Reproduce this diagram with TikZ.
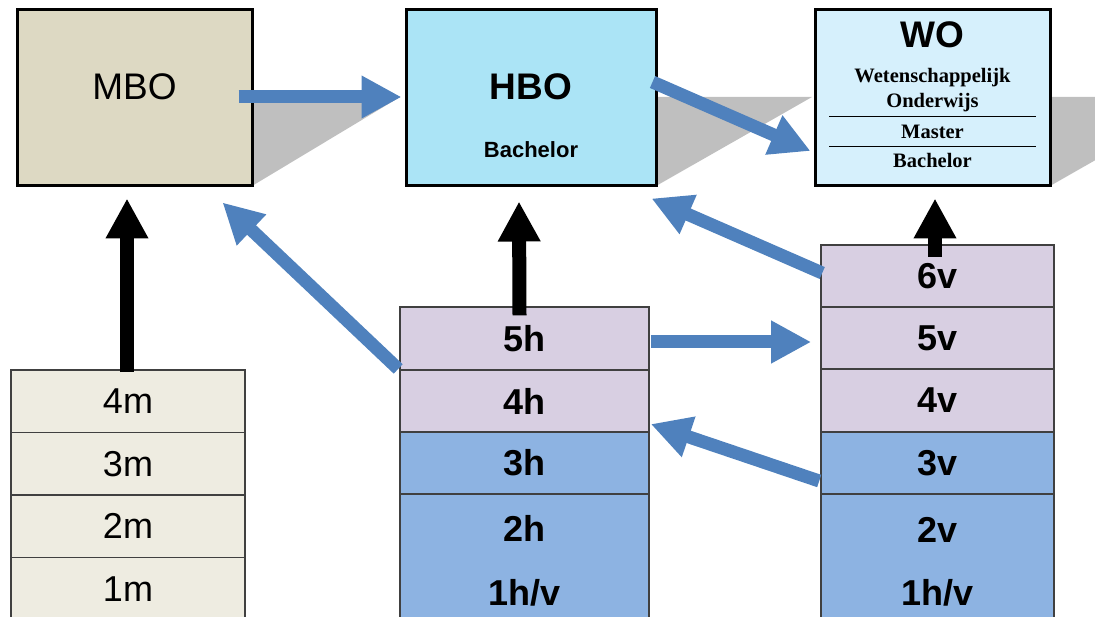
\documentclass[tikz,border=0pt]{standalone}
\usepackage{fontspec}
\setmainfont{Liberation Sans}
\newfontfamily\woserif{Liberation Serif}
\usetikzlibrary{positioning, arrows.meta, calc}

\definecolor{mbotan}{HTML}{DDD9C3}
\definecolor{hbosky}{HTML}{ABE4F6}
\definecolor{wosky}{HTML}{D6F0FC}
\definecolor{mrowfill}{HTML}{EEECE1}
\definecolor{upperfill}{HTML}{D8CFE2}
\definecolor{lowerfill}{HTML}{8DB3E2}
\definecolor{flowblue}{HTML}{4F81BD}
\definecolor{shadowgray}{HTML}{BFBFBF}

\begin{document}
\begin{tikzpicture}[x=1pt, y=-1pt,
    % Styles
    level/.style={draw=black, line width=3pt, minimum height=176pt, inner sep=0pt},
    year/.style={draw=black!75, line width=1.6pt, minimum width=#1, minimum height=62.5pt, inner sep=0pt,
        font=\fontsize{36}{40}\selectfont\bfseries},
    year/.default=249pt,
    mrow/.style={year=234pt, fill=mrowfill, font=\fontsize{36}{40}\selectfont},
    yearlabel/.style={anchor=base, font=\fontsize{36}{40}\selectfont\bfseries},
    wotext/.style={anchor=base, font=\woserif\fontsize{20.5}{22}\selectfont\bfseries},
    up-arrow/.style={-{Triangle[length=40pt, width=40pt]}, line width=14pt, black},
    flow-arrow/.style={-{Triangle[length=40pt, width=40pt]}, line width=13pt, flowblue},
]
\useasboundingbox (0,0) rectangle (1095,617);
\clip (0,0) rectangle (1095,617);

% Shadows behind the top boxes
\fill[shadowgray] (252,97) -- (400,97) -- (252,186) -- cycle;
\fill[shadowgray] (656,97) -- (812,97) -- (656,186) -- cycle;
\fill[shadowgray] (1050,97) -- (1206,97) -- (1050,186) -- cycle;

% Top row: MBO, HBO, WO
\node[level, fill=mbotan, minimum width=235pt] (mbo) at (134.5,98) {};
\node[anchor=base, font=\fontsize{37}{40}\selectfont] (mbotitle) at (134.5,100) {MBO};

\node[level, fill=hbosky, minimum width=250pt] (hbo) at (531,98) {};
\node[anchor=base, font=\fontsize{37}{40}\selectfont\bfseries] (hbotitle) at (531,100) {HBO};
\node[anchor=base, font=\fontsize{22}{26}\selectfont\bfseries] (hbobach) at (531,158) {Bachelor};

\node[level, fill=wosky, minimum width=235pt] (wo) at (932.5,98) {};
\node[anchor=base, font=\fontsize{37}{40}\selectfont\bfseries] (wotitle) at (932.5,48) {WO};
\node[wotext] (wosub) at (932.5,83) {Wetenschappelijk};
\node[wotext] (wosubb) at (932.5,108) {Onderwijs};
\draw[line width=1pt] (829,117) -- (1036,117);
\node[wotext] (womaster) at (932.5,139) {Master};
\draw[line width=1pt] (829,147) -- (1036,147);
\node[wotext] (wobach) at (932.5,168) {Bachelor};

% MBO years
\node[mrow] (m4) at (128,401.25) {4m};
\node[mrow] (m3) at (128,463.75) {3m};
\node[mrow] (m2) at (128,526.25) {2m};
\node[mrow] (m1) at (128,588.75) {1m};

% HAVO years
\node[year, fill=upperfill] (h5) at (524.5,338.5) {5h};
\node[year, fill=upperfill] (h4) at (524.5,401) {4h};
\node[year, fill=lowerfill] (h3) at (524.5,463) {3h};
\node[year, fill=lowerfill, minimum height=166pt] (h21) at (524.5,577) {};
\node[yearlabel] (h2) at (524.5,541) {2h};
\node[yearlabel] (h1) at (524.5,605) {1h/v};

% VWO years
\node[year=233pt, fill=upperfill] (v6) at (937.5,276) {6v};
\node[year=233pt, fill=upperfill] (v5) at (937.5,338) {5v};
\node[year=233pt, fill=upperfill] (v4) at (937.5,400.5) {4v};
\node[year=233pt, fill=lowerfill] (v3) at (937.5,463) {3v};
\node[year=233pt, fill=lowerfill, minimum height=166pt] (v21) at (937.5,577) {};
\node[yearlabel] (v2) at (937.5,542) {2v};
\node[yearlabel] (v1) at (937.5,605) {1h/v};

% Diploma arrows
\draw[up-arrow] ([shift={(-1,3)}]m4.north) -- ($(m4.north |- mbo.south)+(-1,11)$);
\draw[up-arrow] ([shift={(-5,9)}]h5.north) -- ([shift={(-12,14)}]hbo.south);
\draw[up-arrow] ([shift={(-2.5,13)}]v6.north) -- ([shift={(2.5,11)}]wo.south);

% Transfer arrows
\draw[flow-arrow] ([shift={(-15,-1)}]mbo.east) -- ([shift={(-3,-1)}]hbo.west);
\draw[flow-arrow] ([shift={(-5,-16)}]hbo.east) -- ([shift={(-3,53)}]wo.west);
\draw[flow-arrow] ([shift={(2,-3)}]v6.west) -- ([shift={(-6,11)}]hbo.south east);
\draw[flow-arrow] ([shift={(1,3.5)}]h5.east) -- ([shift={(-9,4)}]v5.west);
\draw[flow-arrow] ([shift={(-1,0)}]h4.north west) -- ([shift={(-31,15)}]mbo.south east);
\draw[flow-arrow] ([shift={(-1,18)}]v3.west) -- ([shift={(1,-9)}]h4.south east);

\end{tikzpicture}
\end{document}
